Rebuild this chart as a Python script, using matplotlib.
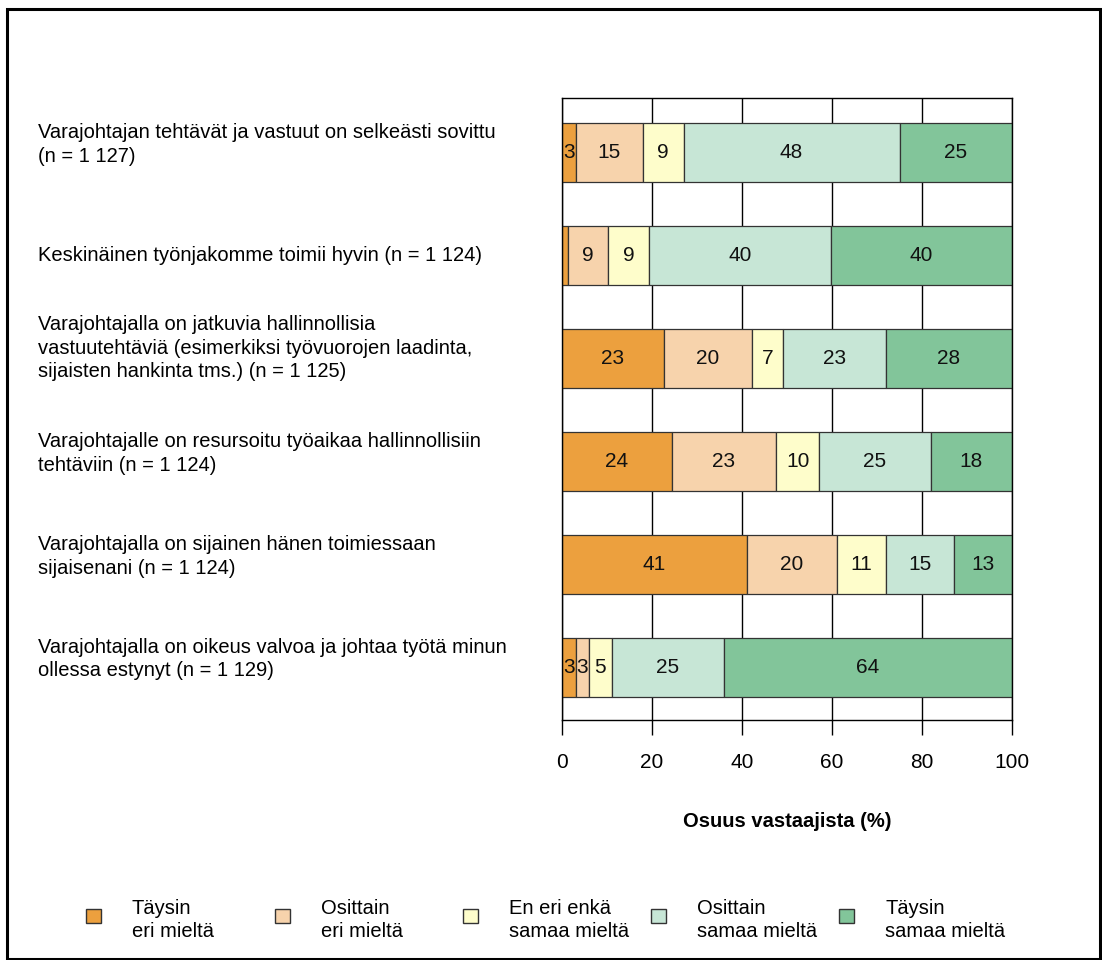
import matplotlib
matplotlib.use("Agg")
import matplotlib.pyplot as plt
from matplotlib.patches import Rectangle
from matplotlib.transforms import blended_transform_factory

plt.rcParams["font.family"] = ["Liberation Sans", "DejaVu Sans"]

# Statements (rows, top to bottom)
statements = [
    "Varajohtajan tehtävät ja vastuut on selkeästi sovittu\n(n = 1 127)",
    "Keskinäinen työnjakomme toimii hyvin (n = 1 124)",
    "Varajohtajalla on jatkuvia hallinnollisia\nvastuutehtäviä (esimerkiksi työvuorojen laadinta,\nsijaisten hankinta tms.) (n = 1 125)",
    "Varajohtajalle on resursoitu työaikaa hallinnollisiin\ntehtäviin (n = 1 124)",
    "Varajohtajalla on sijainen hänen toimiessaan\nsijaisenani (n = 1 124)",
    "Varajohtajalla on oikeus valvoa ja johtaa työtä minun\nollessa estynyt (n = 1 129)",
]

# Response categories
categories = [
    "Täysin\neri mieltä",
    "Osittain\neri mieltä",
    "En eri enkä\nsamaa mieltä",
    "Osittain\nsamaa mieltä",
    "Täysin\nsamaa mieltä",
]

# Shares of respondents (%) per category, one value per statement
taysin_eri = [3, 1.4, 22.6, 24.4, 41, 3]
osittain_eri = [15, 8.8, 19.6, 23.1, 20, 3]
ei_kumpaakaan = [9, 9.2, 7.0, 9.7, 11, 5]
osittain_samaa = [48, 40.3, 22.8, 24.7, 15, 25]
taysin_samaa = [25, 40.3, 28.0, 18.1, 13, 64]

series = [taysin_eri, osittain_eri, ei_kumpaakaan, osittain_samaa, taysin_samaa]
colors = ["#ECA03E", "#F7D3AC", "#FEFDCB", "#C7E6D6", "#82C59A"]

x_ticks = [0, 20, 40, 60, 80, 100]

fig = plt.figure(figsize=(11.02, 9.6), dpi=100)
ax = fig.add_axes([562 / 1102, 1 - 720 / 960, 450 / 1102, 622 / 960])

ypos = list(range(len(statements)))
left = [0.0] * len(statements)
for vals, col in zip(series, colors):
    bars = ax.barh(ypos, vals, left=left, height=0.565, color=col,
                   edgecolor="#333333", linewidth=0.9, zorder=2)
    for b, v in zip(bars, vals):
        if v >= 2:
            ax.text(b.get_x() + b.get_width() / 2, b.get_y() + b.get_height() / 2,
                    f"{round(v)}", ha="center", va="center", fontsize=15,
                    color="#111111", zorder=3)
    left = [l + v for l, v in zip(left, vals)]

ax.set_xlim(0, 100)
ax.set_ylim(len(statements) - 0.49, -0.53)
ax.set_xticks(x_ticks)
ax.set_xticklabels([str(t) for t in x_ticks])
ax.set_yticks([])
ax.set_axisbelow(True)
ax.xaxis.grid(True, color="black", linewidth=1.0, zorder=0)
for s in ax.spines.values():
    s.set_color("black")
    s.set_linewidth(1.0)
ax.tick_params(axis="x", length=10.8, width=1.0, pad=13, labelsize=15,
               color="black")
ax.set_xlabel("Osuus vastaajista (%)", fontsize=14.5, fontweight="bold",
              labelpad=29)

# Statement texts, left aligned at a fixed figure position
trans = blended_transform_factory(fig.transFigure, ax.transData)
for y, txt in zip(ypos, statements):
    nlines = txt.count("\n") + 1
    shift = {1: 0.0, 2: -0.08, 3: -0.1}[nlines]
    ax.text(38 / 1102, y + shift, txt, transform=trans, ha="left", va="center",
            multialignment="left", fontsize=14.5, linespacing=1.3,
            clip_on=False)

# Legend row along the bottom
legend_x = [86, 275, 463, 651, 839]
for px, col, lab in zip(legend_x, colors, categories):
    fig.patches.append(Rectangle((px / 1102, 1 - 923 / 960), 15 / 1102, 14 / 960,
                                 transform=fig.transFigure, facecolor=col,
                                 edgecolor="#333333", linewidth=1.0))
    fig.text((px + 46) / 1102, 1 - 920 / 960, lab, ha="left", va="center",
             multialignment="left", fontsize=14.5, linespacing=1.3)

# Outer frame
fig.patches.append(Rectangle((7 / 1102, 1 - 959 / 960), 1093 / 1102, 950 / 960,
                             transform=fig.transFigure, fill=False,
                             edgecolor="black", linewidth=2.2))

fig.savefig("out.png", dpi=100)
